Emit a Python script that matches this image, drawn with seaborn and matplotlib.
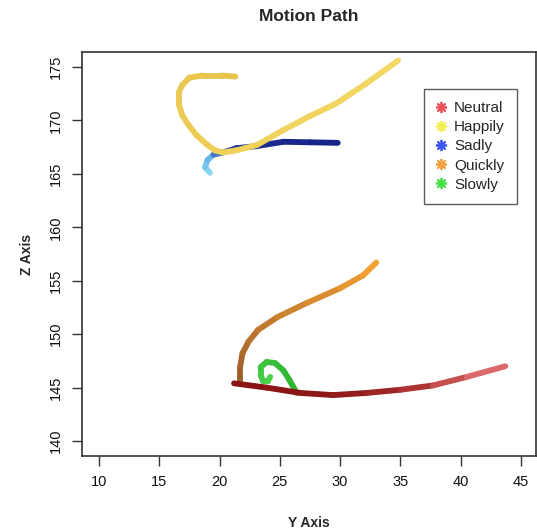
import numpy as np
import seaborn as sns
import matplotlib.pyplot as plt
from matplotlib.collections import LineCollection
from matplotlib.lines import Line2D

# motion paths (Y axis, Z axis)
neutral_y = [21.2, 23.9, 26.7, 29.4, 32.2, 35.0, 37.7, 40.5, 43.7]
neutral_z = [145.4, 145.0, 144.5, 144.3, 144.5, 144.8, 145.2, 146.0, 147.0]

happily_y = [34.8, 32.1, 29.7, 27.5, 25.3, 23.1, 21.4, 20.3, 19.6, 19.0, 18.1,
             17.4, 16.9, 16.6, 16.6, 16.9, 17.5, 18.6, 20.2, 21.3]
happily_z = [175.6, 173.4, 171.6, 170.4, 169.1, 167.7, 167.2, 167.0, 167.2, 167.7, 168.6,
             169.6, 170.5, 171.6, 172.6, 173.3, 174.0, 174.2, 174.2, 174.1]

sadly_y = [19.2, 18.8, 19.0, 19.5, 20.3, 21.4, 23.1, 25.3, 27.5, 29.8]
sadly_z = [165.1, 165.6, 166.3, 166.8, 167.0, 167.4, 167.6, 168.0, 167.95, 167.9]

quickly_y = [21.7, 21.7, 21.9, 22.4, 23.2, 24.8, 27.2, 30.0, 31.9, 33.0]
quickly_z = [145.5, 146.9, 148.2, 149.3, 150.4, 151.6, 152.9, 154.3, 155.5, 156.7]

slowly_y = [26.4, 25.8, 25.3, 24.6, 23.9, 23.4, 23.4, 23.6, 24.0, 24.2]
slowly_z = [144.5, 145.7, 146.6, 147.3, 147.4, 146.9, 146.2, 145.6, 145.6, 146.0]

labels = ["Neutral", "Happily", "Sadly", "Quickly", "Slowly"]
legend_colors = ["#f0505a", "#f2ee55", "#3d55f0", "#f0a040", "#45e045"]

sns.set_style("ticks")
plt.rcParams['font.family'] = ['Liberation Sans', 'DejaVu Sans']

fig = plt.figure(figsize=(5.37, 5.30), dpi=100)
ax = fig.add_axes([0.1527, 0.1396, 0.8453, 0.7623])


def path(ax, ys, zs, stops, z):
    pts = np.column_stack([ys, zs])
    segs = np.stack([pts[:-1], pts[1:]], axis=1)
    cols = sns.blend_palette(stops, n_colors=len(segs))
    lc = LineCollection(segs, colors=cols, linewidths=4.2,
                        capstyle='round', joinstyle='round', zorder=z)
    ax.add_collection(lc)


path(ax, quickly_y, quickly_z, ["#9c5e2a", "#c07a2e", "#f2a032"], 2)
path(ax, slowly_y, slowly_z, ["#2db42d", "#4cd04c"], 3)
path(ax, neutral_y, neutral_z, ["#8a1414", "#8e1717", "#a42a2a", "#dc6a6a"], 4)
path(ax, sadly_y, sadly_z, ["#85d6f2", "#6ab8e8", "#24389a", "#1a2a8c", "#17258a"], 5)
path(ax, happily_y, happily_z, ["#f2d762", "#e9c44c"], 6)

ax.set_xlim(8.59, 46.24)
ax.set_ylim(138.6, 176.4)
ax.set_xticks(range(10, 50, 5))
ax.set_yticks(range(140, 180, 5))
ax.tick_params(direction='out', length=7, width=1, color='#333333',
               labelsize=10.5, pad=7, labelcolor='#111111')
for lab in ax.get_yticklabels():
    lab.set_rotation(90)
    lab.set_va('center')
for s in ax.spines.values():
    s.set_visible(True)
    s.set_color('#333333')
    s.set_linewidth(1.2)

ax.set_title("Motion Path", fontsize=12.5, fontweight='bold', pad=22)
ax.set_xlabel("Y Axis", fontsize=10, fontweight='bold')
ax.set_ylabel("Z Axis", fontsize=10, fontweight='bold')
ax.xaxis.set_label_coords(0.5, -0.148)
ax.yaxis.set_label_coords(-0.105, 0.5)

handles = [Line2D([], [], linestyle='none', marker=(8, 2, 0), markersize=8,
                  markeredgewidth=1.3, color=c) for c in legend_colors]
leg = ax.legend(handles, labels, loc='upper right', bbox_to_anchor=(0.958, 0.908),
                borderaxespad=0, fontsize=11, frameon=True, fancybox=False,
                labelspacing=0.33, handlelength=0.6, handletextpad=0.55,
                borderpad=0.8)
leg.get_frame().set_edgecolor('#333333')
leg.get_frame().set_linewidth(1.0)

plt.savefig("out.png", dpi=100)
